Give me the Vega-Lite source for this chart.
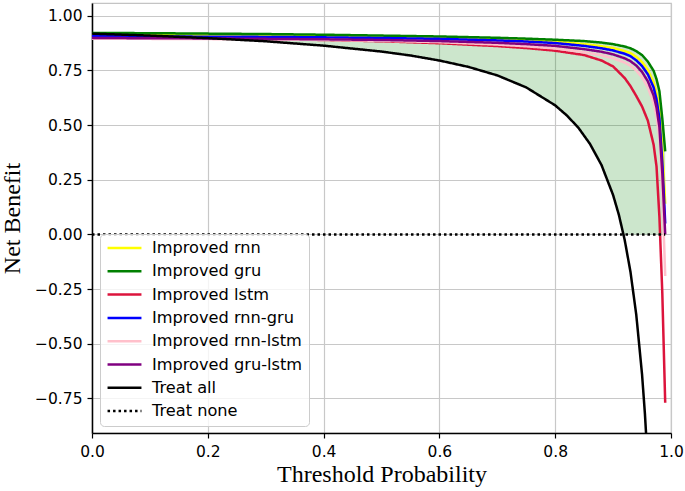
{
  "$schema": "https://vega.github.io/schema/vega-lite/v6.json",
  "width": 579,
  "height": 430,
  "autosize": {"type": "none"},
  "padding": {"left": 92, "top": 3, "right": 14, "bottom": 58},
  "background": "white",
  "config": {
    "view": {"stroke": "#c4c4c4", "strokeWidth": 1.2},
    "axis": {
      "grid": true, "gridColor": "#c8c8c8", "gridWidth": 1.2,
      "domainColor": "#000000", "domainWidth": 1.5,
      "tickColor": "#000000", "tickSize": 5, "tickWidth": 1.2,
      "labelFont": "DejaVu Sans", "labelFontSize": 15.5, "labelColor": "#000000", "labelFlush": false,
      "titleFont": "Liberation Serif", "titleFontSize": 24, "titleFontWeight": "normal", "titleColor": "#000000"
    },
    "legend": {
      "fillColor": "rgba(255,255,255,0.8)", "strokeColor": "#cccccc", "cornerRadius": 4,
      "padding": 6, "labelFont": "DejaVu Sans", "labelFontSize": 16.2, "labelColor": "#000000",
      "symbolType": "stroke", "symbolSize": 1150, "symbolStrokeWidth": 2.5, "labelOffset": 9,
      "clipHeight": 16, "rowPadding": 7.7
    }
  },
  "datasets": {
    "band": [
      {"x": 0, "upper": 0.921, "lower": 0.918},
      {"x": 0.1, "upper": 0.920, "lower": 0.909},
      {"x": 0.2, "upper": 0.918, "lower": 0.8975},
      {"x": 0.3, "upper": 0.916, "lower": 0.883},
      {"x": 0.4, "upper": 0.913, "lower": 0.863},
      {"x": 0.5, "upper": 0.909, "lower": 0.836},
      {"x": 0.6, "upper": 0.905, "lower": 0.795},
      {"x": 0.65, "upper": 0.902, "lower": 0.766},
      {"x": 0.7, "upper": 0.899, "lower": 0.727},
      {"x": 0.75, "upper": 0.895, "lower": 0.672},
      {"x": 0.8, "upper": 0.890, "lower": 0.590},
      {"x": 0.82, "upper": 0.888, "lower": 0.544},
      {"x": 0.84, "upper": 0.886, "lower": 0.488},
      {"x": 0.85, "upper": 0.884, "lower": 0.453},
      {"x": 0.86, "upper": 0.882, "lower": 0.414},
      {"x": 0.88, "upper": 0.877, "lower": 0.317},
      {"x": 0.9, "upper": 0.870, "lower": 0.180},
      {"x": 0.91, "upper": 0.865, "lower": 0.089},
      {"x": 0.918, "upper": 0.860, "lower": 0},
      {"x": 0.92, "upper": 0.859, "lower": 0},
      {"x": 0.93, "upper": 0.851, "lower": 0},
      {"x": 0.94, "upper": 0.838, "lower": 0},
      {"x": 0.95, "upper": 0.82, "lower": 0},
      {"x": 0.96, "upper": 0.79, "lower": 0},
      {"x": 0.97, "upper": 0.748, "lower": 0},
      {"x": 0.975, "upper": 0.71, "lower": 0},
      {"x": 0.98, "upper": 0.655, "lower": 0},
      {"x": 0.985, "upper": 0.53, "lower": 0},
      {"x": 0.99, "upper": 0.38, "lower": 0}
    ],
    "lines": [
      {"series": "Improved rnn", "x": 0, "y": 0.913},
      {"series": "Improved rnn", "x": 0.1, "y": 0.912},
      {"series": "Improved rnn", "x": 0.2, "y": 0.911},
      {"series": "Improved rnn", "x": 0.3, "y": 0.909},
      {"series": "Improved rnn", "x": 0.4, "y": 0.907},
      {"series": "Improved rnn", "x": 0.5, "y": 0.904},
      {"series": "Improved rnn", "x": 0.6, "y": 0.900},
      {"series": "Improved rnn", "x": 0.7, "y": 0.893},
      {"series": "Improved rnn", "x": 0.75, "y": 0.888},
      {"series": "Improved rnn", "x": 0.8, "y": 0.881},
      {"series": "Improved rnn", "x": 0.85, "y": 0.870},
      {"series": "Improved rnn", "x": 0.88, "y": 0.860},
      {"series": "Improved rnn", "x": 0.9, "y": 0.852},
      {"series": "Improved rnn", "x": 0.92, "y": 0.838},
      {"series": "Improved rnn", "x": 0.93, "y": 0.829},
      {"series": "Improved rnn", "x": 0.94, "y": 0.812},
      {"series": "Improved rnn", "x": 0.95, "y": 0.788},
      {"series": "Improved rnn", "x": 0.96, "y": 0.752},
      {"series": "Improved rnn", "x": 0.97, "y": 0.695},
      {"series": "Improved rnn", "x": 0.975, "y": 0.645},
      {"series": "Improved rnn", "x": 0.98, "y": 0.565},
      {"series": "Improved rnn", "x": 0.985, "y": 0.40},
      {"series": "Improved rnn", "x": 0.99, "y": 0.14},

      {"series": "Improved gru", "x": 0, "y": 0.921},
      {"series": "Improved gru", "x": 0.1, "y": 0.920},
      {"series": "Improved gru", "x": 0.2, "y": 0.918},
      {"series": "Improved gru", "x": 0.3, "y": 0.916},
      {"series": "Improved gru", "x": 0.4, "y": 0.913},
      {"series": "Improved gru", "x": 0.5, "y": 0.909},
      {"series": "Improved gru", "x": 0.6, "y": 0.905},
      {"series": "Improved gru", "x": 0.7, "y": 0.899},
      {"series": "Improved gru", "x": 0.75, "y": 0.895},
      {"series": "Improved gru", "x": 0.8, "y": 0.890},
      {"series": "Improved gru", "x": 0.85, "y": 0.884},
      {"series": "Improved gru", "x": 0.88, "y": 0.877},
      {"series": "Improved gru", "x": 0.9, "y": 0.870},
      {"series": "Improved gru", "x": 0.92, "y": 0.859},
      {"series": "Improved gru", "x": 0.93, "y": 0.851},
      {"series": "Improved gru", "x": 0.94, "y": 0.838},
      {"series": "Improved gru", "x": 0.95, "y": 0.82},
      {"series": "Improved gru", "x": 0.96, "y": 0.79},
      {"series": "Improved gru", "x": 0.97, "y": 0.748},
      {"series": "Improved gru", "x": 0.975, "y": 0.71},
      {"series": "Improved gru", "x": 0.98, "y": 0.655},
      {"series": "Improved gru", "x": 0.985, "y": 0.53},
      {"series": "Improved gru", "x": 0.99, "y": 0.38},

      {"series": "Improved lstm", "x": 0, "y": 0.899},
      {"series": "Improved lstm", "x": 0.1, "y": 0.898},
      {"series": "Improved lstm", "x": 0.2, "y": 0.896},
      {"series": "Improved lstm", "x": 0.3, "y": 0.893},
      {"series": "Improved lstm", "x": 0.4, "y": 0.889},
      {"series": "Improved lstm", "x": 0.5, "y": 0.883},
      {"series": "Improved lstm", "x": 0.6, "y": 0.874},
      {"series": "Improved lstm", "x": 0.7, "y": 0.861},
      {"series": "Improved lstm", "x": 0.75, "y": 0.852},
      {"series": "Improved lstm", "x": 0.8, "y": 0.840},
      {"series": "Improved lstm", "x": 0.85, "y": 0.820},
      {"series": "Improved lstm", "x": 0.88, "y": 0.795},
      {"series": "Improved lstm", "x": 0.9, "y": 0.768},
      {"series": "Improved lstm", "x": 0.92, "y": 0.715},
      {"series": "Improved lstm", "x": 0.93, "y": 0.678},
      {"series": "Improved lstm", "x": 0.94, "y": 0.633},
      {"series": "Improved lstm", "x": 0.95, "y": 0.585},
      {"series": "Improved lstm", "x": 0.96, "y": 0.52},
      {"series": "Improved lstm", "x": 0.97, "y": 0.41},
      {"series": "Improved lstm", "x": 0.975, "y": 0.31},
      {"series": "Improved lstm", "x": 0.98, "y": 0.08},
      {"series": "Improved lstm", "x": 0.985, "y": -0.27},
      {"series": "Improved lstm", "x": 0.99, "y": -0.77},

      {"series": "Improved rnn-gru", "x": 0, "y": 0.906},
      {"series": "Improved rnn-gru", "x": 0.1, "y": 0.905},
      {"series": "Improved rnn-gru", "x": 0.2, "y": 0.904},
      {"series": "Improved rnn-gru", "x": 0.3, "y": 0.903},
      {"series": "Improved rnn-gru", "x": 0.4, "y": 0.901},
      {"series": "Improved rnn-gru", "x": 0.5, "y": 0.898},
      {"series": "Improved rnn-gru", "x": 0.6, "y": 0.894},
      {"series": "Improved rnn-gru", "x": 0.7, "y": 0.887},
      {"series": "Improved rnn-gru", "x": 0.75, "y": 0.882},
      {"series": "Improved rnn-gru", "x": 0.8, "y": 0.875},
      {"series": "Improved rnn-gru", "x": 0.85, "y": 0.862},
      {"series": "Improved rnn-gru", "x": 0.88, "y": 0.851},
      {"series": "Improved rnn-gru", "x": 0.9, "y": 0.841},
      {"series": "Improved rnn-gru", "x": 0.92, "y": 0.826},
      {"series": "Improved rnn-gru", "x": 0.93, "y": 0.815},
      {"series": "Improved rnn-gru", "x": 0.94, "y": 0.796},
      {"series": "Improved rnn-gru", "x": 0.95, "y": 0.770},
      {"series": "Improved rnn-gru", "x": 0.96, "y": 0.732},
      {"series": "Improved rnn-gru", "x": 0.97, "y": 0.672},
      {"series": "Improved rnn-gru", "x": 0.975, "y": 0.618},
      {"series": "Improved rnn-gru", "x": 0.98, "y": 0.53},
      {"series": "Improved rnn-gru", "x": 0.985, "y": 0.33},
      {"series": "Improved rnn-gru", "x": 0.99, "y": 0.05},

      {"series": "Improved rnn-lstm", "x": 0, "y": 0.895},
      {"series": "Improved rnn-lstm", "x": 0.1, "y": 0.894},
      {"series": "Improved rnn-lstm", "x": 0.2, "y": 0.893},
      {"series": "Improved rnn-lstm", "x": 0.3, "y": 0.891},
      {"series": "Improved rnn-lstm", "x": 0.4, "y": 0.889},
      {"series": "Improved rnn-lstm", "x": 0.5, "y": 0.885},
      {"series": "Improved rnn-lstm", "x": 0.6, "y": 0.879},
      {"series": "Improved rnn-lstm", "x": 0.7, "y": 0.868},
      {"series": "Improved rnn-lstm", "x": 0.75, "y": 0.860},
      {"series": "Improved rnn-lstm", "x": 0.8, "y": 0.850},
      {"series": "Improved rnn-lstm", "x": 0.85, "y": 0.833},
      {"series": "Improved rnn-lstm", "x": 0.88, "y": 0.819},
      {"series": "Improved rnn-lstm", "x": 0.9, "y": 0.805},
      {"series": "Improved rnn-lstm", "x": 0.92, "y": 0.786},
      {"series": "Improved rnn-lstm", "x": 0.93, "y": 0.771},
      {"series": "Improved rnn-lstm", "x": 0.94, "y": 0.749},
      {"series": "Improved rnn-lstm", "x": 0.95, "y": 0.718},
      {"series": "Improved rnn-lstm", "x": 0.96, "y": 0.672},
      {"series": "Improved rnn-lstm", "x": 0.97, "y": 0.60},
      {"series": "Improved rnn-lstm", "x": 0.975, "y": 0.54},
      {"series": "Improved rnn-lstm", "x": 0.98, "y": 0.44},
      {"series": "Improved rnn-lstm", "x": 0.985, "y": 0.20},
      {"series": "Improved rnn-lstm", "x": 0.99, "y": -0.19},

      {"series": "Improved gru-lstm", "x": 0, "y": 0.898},
      {"series": "Improved gru-lstm", "x": 0.1, "y": 0.897},
      {"series": "Improved gru-lstm", "x": 0.2, "y": 0.896},
      {"series": "Improved gru-lstm", "x": 0.3, "y": 0.894},
      {"series": "Improved gru-lstm", "x": 0.4, "y": 0.892},
      {"series": "Improved gru-lstm", "x": 0.5, "y": 0.889},
      {"series": "Improved gru-lstm", "x": 0.6, "y": 0.884},
      {"series": "Improved gru-lstm", "x": 0.7, "y": 0.876},
      {"series": "Improved gru-lstm", "x": 0.75, "y": 0.870},
      {"series": "Improved gru-lstm", "x": 0.8, "y": 0.862},
      {"series": "Improved gru-lstm", "x": 0.85, "y": 0.847},
      {"series": "Improved gru-lstm", "x": 0.88, "y": 0.835},
      {"series": "Improved gru-lstm", "x": 0.9, "y": 0.823},
      {"series": "Improved gru-lstm", "x": 0.92, "y": 0.805},
      {"series": "Improved gru-lstm", "x": 0.93, "y": 0.792},
      {"series": "Improved gru-lstm", "x": 0.94, "y": 0.772},
      {"series": "Improved gru-lstm", "x": 0.95, "y": 0.743},
      {"series": "Improved gru-lstm", "x": 0.96, "y": 0.70},
      {"series": "Improved gru-lstm", "x": 0.97, "y": 0.635},
      {"series": "Improved gru-lstm", "x": 0.975, "y": 0.58},
      {"series": "Improved gru-lstm", "x": 0.98, "y": 0.49},
      {"series": "Improved gru-lstm", "x": 0.985, "y": 0.28},
      {"series": "Improved gru-lstm", "x": 0.99, "y": 0.0},

      {"series": "Treat all", "x": 0, "y": 0.918},
      {"series": "Treat all", "x": 0.1, "y": 0.909},
      {"series": "Treat all", "x": 0.2, "y": 0.8975},
      {"series": "Treat all", "x": 0.3, "y": 0.883},
      {"series": "Treat all", "x": 0.4, "y": 0.863},
      {"series": "Treat all", "x": 0.5, "y": 0.836},
      {"series": "Treat all", "x": 0.55, "y": 0.818},
      {"series": "Treat all", "x": 0.6, "y": 0.795},
      {"series": "Treat all", "x": 0.65, "y": 0.766},
      {"series": "Treat all", "x": 0.7, "y": 0.727},
      {"series": "Treat all", "x": 0.75, "y": 0.672},
      {"series": "Treat all", "x": 0.8, "y": 0.590},
      {"series": "Treat all", "x": 0.82, "y": 0.544},
      {"series": "Treat all", "x": 0.84, "y": 0.488},
      {"series": "Treat all", "x": 0.86, "y": 0.414},
      {"series": "Treat all", "x": 0.88, "y": 0.317},
      {"series": "Treat all", "x": 0.9, "y": 0.180},
      {"series": "Treat all", "x": 0.91, "y": 0.089},
      {"series": "Treat all", "x": 0.92, "y": -0.025},
      {"series": "Treat all", "x": 0.93, "y": -0.171},
      {"series": "Treat all", "x": 0.94, "y": -0.367},
      {"series": "Treat all", "x": 0.95, "y": -0.640},
      {"series": "Treat all", "x": 0.955, "y": -0.822},
      {"series": "Treat all", "x": 0.96, "y": -1.050},

      {"series": "Treat none", "x": 0, "y": 0},
      {"series": "Treat none", "x": 0.99, "y": 0}
    ]
  },
  "layer": [
    {
      "data": {"name": "band"},
      "mark": {"type": "area", "color": "#008000", "opacity": 0.2},
      "encoding": {
        "x": {"field": "x", "type": "quantitative", "scale": {"domain": [0, 1], "nice": false},
              "axis": {"title": "Threshold Probability", "values": [0, 0.2, 0.4, 0.6, 0.8, 1.0], "format": ".1f", "labelPadding": 6, "titlePadding": 3}},
        "y": {"field": "upper", "type": "quantitative", "scale": {"domain": [-0.908, 1.058], "nice": false, "zero": false},
              "axis": {"title": "Net Benefit", "values": [-0.75, -0.5, -0.25, 0, 0.25, 0.5, 0.75, 1.0], "format": ".2f", "labelPadding": 5, "titlePadding": 10}},
        "y2": {"field": "lower"}
      }
    },
    {
      "data": {"name": "lines"},
      "mark": {"type": "line", "strokeWidth": 2.5, "clip": true},
      "encoding": {
        "x": {"field": "x", "type": "quantitative", "title": "Threshold Probability"},
        "y": {"field": "y", "type": "quantitative", "title": "Net Benefit"},
        "color": {
          "field": "series", "type": "nominal",
          "scale": {
            "domain": ["Improved rnn", "Improved gru", "Improved lstm", "Improved rnn-gru", "Improved rnn-lstm", "Improved gru-lstm", "Treat all", "Treat none"],
            "range": ["#ffff00", "#008000", "#dc143c", "#0000ff", "#ffc0cb", "#800080", "#000000", "#000000"]
          },
          "legend": {"title": null, "orient": "none", "legendX": 8, "legendY": 231, "rowPadding": 6.3}
        },
        "strokeDash": {
          "field": "series", "type": "nominal",
          "scale": {
            "domain": ["Improved rnn", "Improved gru", "Improved lstm", "Improved rnn-gru", "Improved rnn-lstm", "Improved gru-lstm", "Treat all", "Treat none"],
            "range": [[1, 0], [1, 0], [1, 0], [1, 0], [1, 0], [1, 0], [1, 0], [2.5, 3]]
          },
          "legend": {"title": null, "orient": "none", "legendX": 8, "legendY": 231, "rowPadding": 6.3}
        }
      }
    }
  ]
}
